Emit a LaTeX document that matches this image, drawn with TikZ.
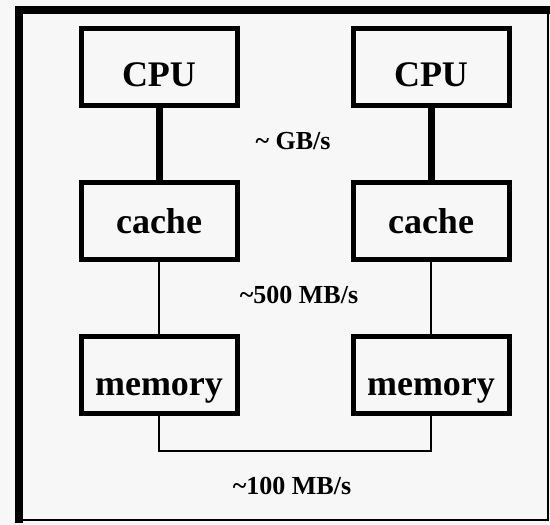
\documentclass[tikz,border=0pt]{standalone}
\usepackage{fontspec}
\setmainfont{Liberation Serif}
\usepackage{tikz}
\usetikzlibrary{positioning}
\definecolor{paper}{RGB}{247,247,247}
\tikzset{
  unit/.style={
    rectangle, draw, line width=5pt, align=center, inner sep=0pt,
    minimum width=156pt, minimum height=77pt,
    font=\fontsize{36}{40}\selectfont\bfseries
  },
  sunk/.style={text height=#1, text depth=0pt},
  rate/.style={anchor=base, font=\fontsize{26}{30}\selectfont\bfseries},
  fast/.style={line width=7pt},
  slow/.style={line width=1.5pt}
}

\begin{document}
\begin{tikzpicture}[x=1pt, y=-1pt, node distance=72pt]
\fill[paper] (0,0) rectangle (550,525);
\useasboundingbox (0,0) rectangle (550,525);
% frame
\draw[line width=8pt] (18.5,523) -- (18.5,9.5) -- (550,9.5);
\draw[line width=1.5pt] (18.5,520) -- (548,520) -- (548,9.5);
% left node
\node[unit, sunk=38pt] (cpuL) at (159,67) {CPU};
\node[unit, below=of cpuL] (cacheL) {cache};
\node[unit, sunk=40pt, below=of cacheL] (memL) {memory};
% right node
\node[unit, sunk=38pt, right=111pt of cpuL] (cpuR) {CPU};
\node[unit, below=of cpuR] (cacheR) {cache};
\node[unit, sunk=40pt, below=of cacheR] (memR) {memory};
% links
\draw[fast] (cpuL) -- (cacheL);
\draw[fast] (cpuR) -- (cacheR);
\draw[slow] (cacheL) -- (memL);
\draw[slow] (cacheR) -- (memR);
\draw[slow] (memL.south) -- ++(0,35) -| (memR.south);
% rates
\node[rate] (gbs) at (293,149) {\textasciitilde{} GB/s};
\node[rate] (mbsmid) at (299,303) {\textasciitilde500 MB/s};
\node[rate] (mbslow) at (292,494) {\textasciitilde100 MB/s};
\end{tikzpicture}
\end{document}
